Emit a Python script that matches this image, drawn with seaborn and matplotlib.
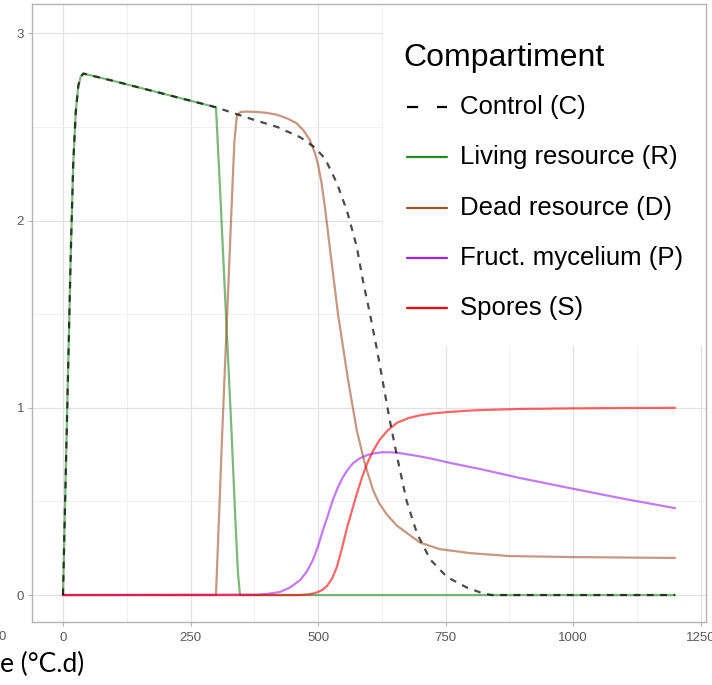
import numpy as np
import pandas as pd
import matplotlib
matplotlib.use("Agg")
import matplotlib.pyplot as plt
import seaborn as sns
from matplotlib.lines import Line2D
from matplotlib.patches import Rectangle

# ---------------- data ----------------
t_C = [0, 5, 10, 15, 20, 25, 30, 35, 40, 100, 200, 300, 372, 420, 465, 494, 514, 537,
       557, 576, 588, 602, 615, 627, 641, 655, 674, 694, 720, 753, 792, 820, 840, 1200]
C = [0, 0.6, 1.2, 1.8, 2.3, 2.58, 2.72, 2.77, 2.785, 2.745, 2.675, 2.605, 2.54, 2.5, 2.445,
     2.39, 2.33, 2.2, 2.05, 1.86, 1.68, 1.50, 1.32, 1.14, 0.93, 0.74, 0.50, 0.33, 0.19,
     0.096, 0.04, 0.012, 0, 0]

t_R = [0, 5, 10, 15, 20, 25, 30, 35, 40, 100, 200, 300, 310, 320, 330, 338, 343, 347, 1200]
R = [0, 0.6, 1.2, 1.8, 2.3, 2.58, 2.72, 2.77, 2.785, 2.745, 2.675, 2.605, 2.05, 1.47,
     0.9, 0.4, 0.12, 0, 0]

t_D = [0, 300, 312, 323, 331, 336, 341, 348, 360, 380, 400, 420, 440, 458, 472, 484, 494,
       500, 507, 514, 523, 539, 559, 576, 592, 608, 620, 635, 655, 675, 700, 739, 798, 876,
       994, 1200]
D = [0, 0, 0.85, 1.575, 2.1, 2.42, 2.56, 2.58, 2.582, 2.58, 2.575, 2.565, 2.545, 2.52,
     2.48, 2.43, 2.36, 2.30, 2.20, 2.06, 1.86, 1.505, 1.148, 0.88, 0.70, 0.56, 0.49,
     0.43, 0.37, 0.33, 0.28, 0.245, 0.224, 0.208, 0.203, 0.198]

t_P = [0, 380, 400, 425, 445, 465, 478, 490, 500, 510, 520, 529, 539, 549, 559, 569, 582,
       596, 610, 627, 645, 661, 690, 720, 760, 798, 818, 896, 994, 1092, 1200]
P = [0, 0.002, 0.006, 0.016, 0.04, 0.08, 0.125, 0.187, 0.26, 0.35, 0.43, 0.507, 0.575,
     0.63, 0.672, 0.705, 0.73, 0.747, 0.757, 0.763, 0.762, 0.758, 0.745, 0.73, 0.705,
     0.684, 0.673, 0.625, 0.571, 0.518, 0.464]

t_S = [0, 460, 480, 490, 500, 510, 518, 528, 537, 547, 557, 567, 576, 586, 596, 608, 621,
       637, 655, 677, 700, 725, 753, 785, 818, 900, 1000, 1100, 1200]
S = [0, 0, 0.003, 0.008, 0.016, 0.03, 0.05, 0.09, 0.15, 0.25, 0.36, 0.455, 0.54, 0.625,
     0.70, 0.77, 0.83, 0.88, 0.92, 0.945, 0.96, 0.97, 0.977, 0.983, 0.988, 0.994, 0.997,
     0.999, 1.0]

labels = ["Control (C)", "Living resource (R)", "Dead resource (D)",
          "Fruct. mycelium (P)", "Spores (S)"]
colors = ["black", "#228B22", "#A0522D", "#A020F0", "#FF0000"]
legend_title = "Compartiment"

x_ticks = [0, 250, 500, 750, 1000, 1250]
y_ticks = [0, 1, 2, 3]

# ---------------- figure ----------------
sns.set_theme(style="white")
plt.rcParams["font.family"] = ["Liberation Sans", "DejaVu Sans"]

W, H = 712, 685
fig = plt.figure(figsize=(W / 100, H / 100), dpi=100)
ax = fig.add_axes([32.4 / W, 1 - 622 / H, (705.6 - 32.4) / W, (622 - 4.3) / H])

frames = {
    labels[1]: (t_R, R),
    labels[2]: (t_D, D),
    labels[3]: (t_P, P),
    labels[4]: (t_S, S),
}
for lab, (tt, vv) in frames.items():
    df = pd.DataFrame({"t": tt, "v": vv})
    sns.lineplot(data=df, x="t", y="v", ax=ax, color=colors[labels.index(lab)],
                 alpha=0.6, lw=1.6, estimator=None, sort=False, zorder=3)

dfc = pd.DataFrame({"t": t_C, "v": C})
sns.lineplot(data=dfc, x="t", y="v", ax=ax, color="black", alpha=0.7, lw=1.6,
             estimator=None, sort=False, zorder=4, dashes=False)
ax.lines[-1].set_linestyle((0, (3, 3)))

ax.set_xlim(-60, 1260)
ax.set_ylim(-0.144, 3.155)
ax.set_xticks(x_ticks)
ax.set_yticks(y_ticks)
ax.set_xticks([125, 375, 625, 875, 1125], minor=True)
ax.set_yticks([0.5, 1.5, 2.5], minor=True)
ax.set_xlabel("")
ax.set_ylabel("")
ax.grid(True, which="major", color="#e3e3e3", lw=0.9, zorder=0)
ax.grid(True, which="minor", color="#eeeeee", lw=0.6, zorder=0)
ax.set_axisbelow(True)
ax.tick_params(axis="both", which="major", length=3, width=0.8, color="#b3b3b3",
               labelcolor="#5a5a5a", labelsize=9.5, bottom=True, left=True)
ax.tick_params(axis="x", pad=4)
ax.tick_params(axis="y", pad=3)
ax.tick_params(which="minor", length=0)
for s in ax.spines.values():
    s.set_color("#b3b3b3")
    s.set_linewidth(1.0)
    s.set_zorder(10)

# legend box (white panel over plot)
lx0 = (383 - 32.4) / 673.2
ly0 = (622 - 346) / 617.7
ax.add_patch(Rectangle((lx0, ly0), 1 - lx0, 1 - ly0, transform=ax.transAxes,
                       facecolor="white", edgecolor="none", zorder=6))

def fx(px):
    return px / W

def fy(py):
    return 1 - py / H

fig.text(fx(403), fy(58), legend_title, fontsize=23, ha="left", va="center",
         color="black", zorder=12)
ys = [107, 157, 208, 258, 308]
for lab, col, yy in zip(labels, colors, ys):
    ln = Line2D([fx(407), fx(447)], [fy(yy), fy(yy)], transform=fig.transFigure,
                color=col, lw=1.6, zorder=12)
    if lab.startswith("Control"):
        ln.set_linestyle((0, (5, 8.5)))
    fig.add_artist(ln)
    fig.text(fx(460), fy(yy), lab, fontsize=18.5, ha="left", va="center",
             color="black", zorder=12)

# cropped remnants visible in the reference
fig.text(fx(6), fy(637), "0", fontsize=9.5, ha="right", va="center", color="#5a5a5a")
fig.text(fx(0.5), fy(664), "e (°C.d)", fontsize=19, ha="left", va="center",
         color="black", family=["Lato", "DejaVu Sans"])

fig.savefig("out.png", dpi=100)
